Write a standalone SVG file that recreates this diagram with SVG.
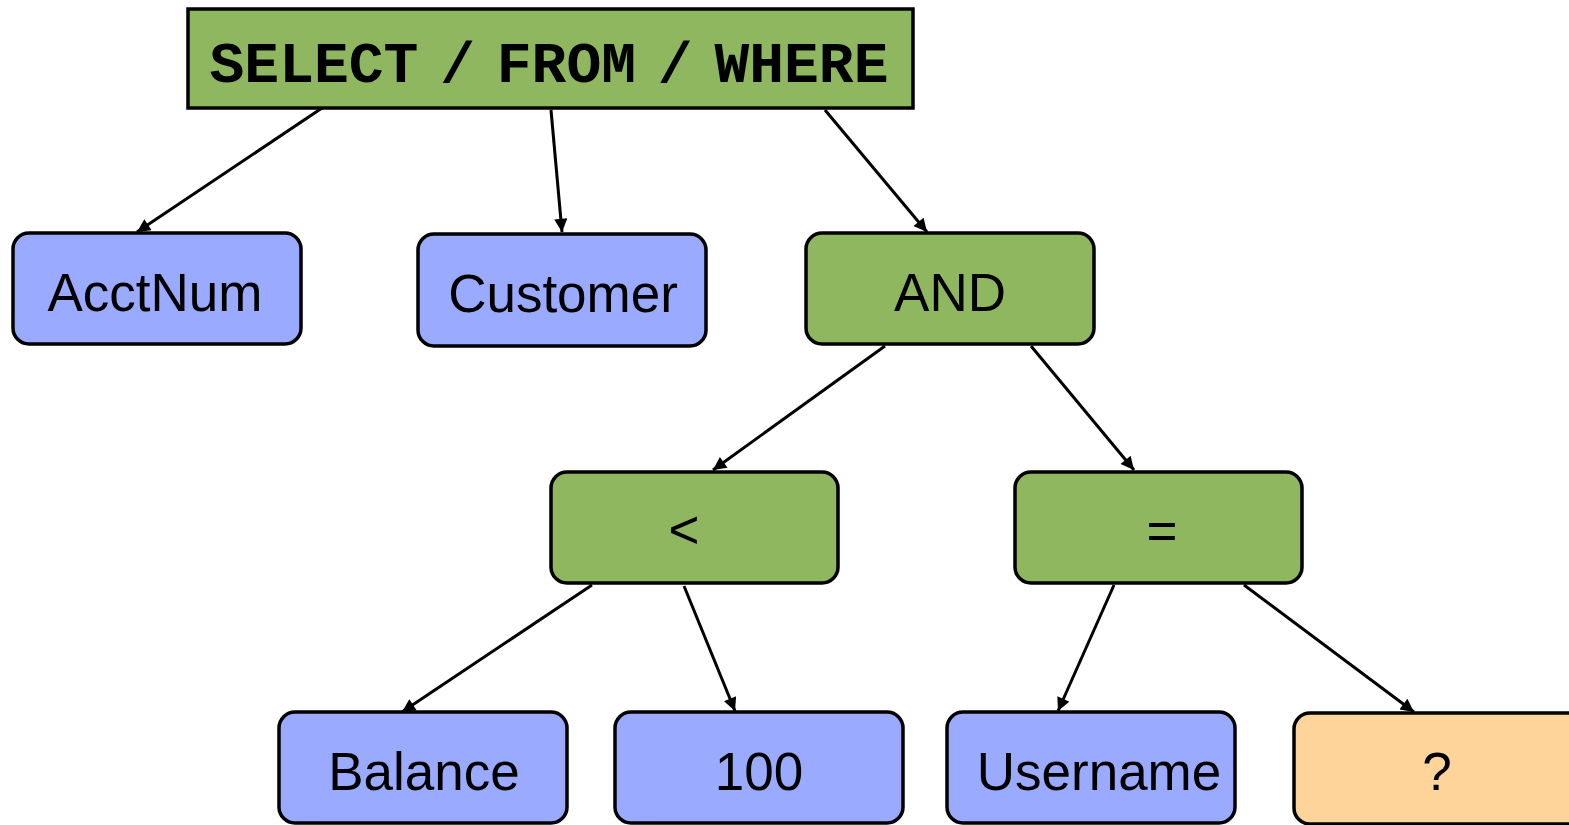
<svg xmlns="http://www.w3.org/2000/svg" width="1569" height="825" viewBox="0 0 1569 825">
<style>
.box{stroke:#000;stroke-width:3.5}
.g{fill:#8fb75f}
.b{fill:#9aabff}
.o{fill:#ffd49b}
.t{font-family:"Liberation Sans",Arial,sans-serif;font-size:53px;text-anchor:middle;fill:#000}
.m{font-family:"Liberation Mono","Courier New",monospace;font-size:58px;font-weight:bold;text-anchor:middle;fill:#000;word-spacing:-13px}
.c line{stroke:#000;stroke-width:3;marker-end:url(#ah)}
</style>
<defs>
<marker id="ah" viewBox="0 0 10 10" refX="10" refY="5" markerWidth="5" markerHeight="4.4" markerUnits="strokeWidth" orient="auto">
<path d="M0,0 L10,5 L0,10 z" fill="#000"/>
</marker>
</defs>
<rect width="1569" height="825" fill="#fff"/>
<g class="c" id="connectors">
<line x1="325" y1="106" x2="137" y2="232"/>
<line x1="551" y1="110" x2="562" y2="232"/>
<line x1="825" y1="110" x2="927" y2="232"/>
<line x1="885" y1="346" x2="713" y2="470"/>
<line x1="1031" y1="346" x2="1134" y2="470"/>
<line x1="592" y1="585" x2="402" y2="712"/>
<line x1="684" y1="586" x2="735" y2="711"/>
<line x1="1114" y1="585" x2="1058" y2="711"/>
<line x1="1244" y1="585" x2="1414" y2="712"/>
</g>
<g id="root"><rect class="box g" x="188" y="9" width="725" height="99"/><text class="m" x="549" y="82">SELECT / FROM / WHERE</text></g>
<g id="acctnum"><rect class="box b" x="13" y="233" width="288" height="111" rx="16"/><text class="t" x="155" y="311">AcctNum</text></g>
<g id="customer"><rect class="box b" x="418" y="234" width="288" height="112" rx="16"/><text class="t" x="563" y="312">Customer</text></g>
<g id="and"><rect class="box g" x="806" y="233" width="288" height="111" rx="16"/><text class="t" x="950" y="311">AND</text></g>
<g id="lt"><rect class="box g" x="551" y="472" width="287" height="111" rx="16"/><text class="t" x="684" y="548">&lt;</text></g>
<g id="eq"><rect class="box g" x="1015" y="472" width="287" height="111" rx="16"/><text class="t" x="1162" y="549">=</text></g>
<g id="balance"><rect class="box b" x="279" y="712" width="288" height="111" rx="16"/><text class="t" x="424" y="790">Balance</text></g>
<g id="n100"><rect class="box b" x="615" y="712" width="288" height="111" rx="16"/><text class="t" x="759" y="790">100</text></g>
<g id="username"><rect class="box b" x="947" y="712" width="288" height="111" rx="16"/><text class="t" x="1099" y="790">Username</text></g>
<g id="param"><rect class="box o" x="1294" y="713" width="290" height="111" rx="16"/><text class="t" x="1437" y="790">?</text></g>
</svg>
